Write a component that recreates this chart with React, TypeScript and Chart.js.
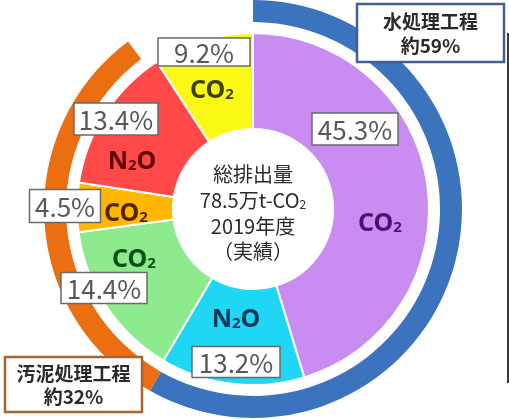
import React, { useEffect, useRef } from 'react';
import { Chart, registerables } from 'chart.js';

Chart.register(...registerables);

// ---- data ----
const gases = ['CO₂', 'N₂O', 'CO₂', 'CO₂', 'N₂O', 'CO₂'];
const shares = [45.3, 13.2, 14.4, 4.5, 13.4, 9.2];
const sliceColors = ['#C98CF1', '#1FD6F5', '#8DEA8D', '#FFB700', '#FF4848', '#F9F914'];
const gasColors = ['#4A1370', '#0A3A55', '#0A4D18', '#4F2600', '#5C0000', '#3E3E00'];
const groupNames = ['水処理工程', '汚泥処理工程', ''];
const groupValues = [58.2, 31.6, 10.2];
const groupColors = ['#3C73BE', '#EB6E10', 'rgba(0,0,0,0)'];
const groupShareLabels = ['約59%', '約32%'];
const centerLines = ['総排出量', '78.5万t-CO₂', '2019年度', '（実績）'];

// ---- layout (offsets from chart centre) ----
const pctBoxes = [
  { dx: 102, dy: -80, w: 86, h: 32 },
  { dx: -17, dy: 153, w: 88, h: 31 },
  { dx: -149, dy: 79, w: 86, h: 31 },
  { dx: -188, dy: -3, w: 71, h: 33 },
  { dx: -137, dy: -90, w: 84, h: 32 },
  { dx: -49, dy: -157, w: 92, h: 28 },
];
const gasPos = [
  { dx: 127, dy: 13 },
  { dx: -17, dy: 109 },
  { dx: -119, dy: 49 },
  { dx: -127, dy: 3 },
  { dx: -121, dy: -49 },
  { dx: -41, dy: -120 },
];
const groupBoxes = [
  { x: 357, y: 4, w: 147, h: 58, border: '#40608F' },
  { x: 5, y: 357, w: 137, h: 55, border: '#A8642C' },
];

const CJK = '"Noto Sans CJK JP", "Noto Sans", sans-serif';
const LAT = '"Noto Sans", "DejaVu Sans", sans-serif';

function drawChem(
  ctx: CanvasRenderingContext2D,
  text: string,
  cx: number,
  cy: number,
  size: number,
  subSize: number,
  family: string,
  weight: string,
  color: string
) {
  const parts = text.split(/(₂)/).filter((p) => p.length > 0);
  const mainFont = `${weight} ${size}px ${family}`;
  const subFont = `${weight} ${subSize}px ${family}`;
  let total = 0;
  const widths: number[] = [];
  parts.forEach((p) => {
    ctx.font = p === '₂' ? subFont : mainFont;
    const w = ctx.measureText(p === '₂' ? '2' : p).width;
    widths.push(w);
    total += w;
  });
  let x = cx - total / 2;
  const baseline = cy + size * 0.36;
  ctx.fillStyle = color;
  ctx.textAlign = 'left';
  ctx.textBaseline = 'alphabetic';
  parts.forEach((p, i) => {
    if (p === '₂') {
      ctx.font = subFont;
      ctx.fillText('2', x, baseline + 1);
    } else {
      ctx.font = mainFont;
      ctx.fillText(p, x, baseline);
    }
    x += widths[i];
  });
}

const labelPlugin = {
  id: 'labelPlugin',
  afterDraw(chart: any) {
    const ctx: CanvasRenderingContext2D = chart.ctx;
    const meta = chart.getDatasetMeta(2);
    if (!meta || !meta.data.length) return;
    const cx = meta.data[0].x;
    const cy = meta.data[0].y;
    ctx.save();

    // gas labels
    gases.forEach((g, i) => {
      const p = gasPos[i];
      drawChem(ctx, g, cx + p.dx, cy + p.dy, 25, 15, LAT, 'bold', gasColors[i]);
    });

    // percentage boxes
    shares.forEach((v, i) => {
      const b = pctBoxes[i];
      const x = cx + b.dx - b.w / 2;
      const y = cy + b.dy - b.h / 2;
      ctx.fillStyle = '#FFFFFF';
      ctx.fillRect(x, y, b.w, b.h);
      ctx.strokeStyle = '#6A6A6A';
      ctx.lineWidth = 1.5;
      ctx.strokeRect(x, y, b.w, b.h);
      ctx.fillStyle = '#585858';
      ctx.font = `26px ${CJK}`;
      ctx.textAlign = 'center';
      ctx.textBaseline = 'middle';
      ctx.fillText(v.toFixed(1) + '%', cx + b.dx, cy + b.dy + 1);
    });

    // centre text
    const offs = [-34, -8, 18, 43];
    centerLines.forEach((t, i) => {
      drawChem(ctx, t, cx, cy + offs[i], 20, 12, CJK, 'normal', '#2A2A2A');
    });

    // group boxes
    groupBoxes.forEach((b, i) => {
      ctx.fillStyle = '#FFFFFF';
      ctx.fillRect(b.x, b.y, b.w, b.h);
      ctx.strokeStyle = b.border;
      ctx.lineWidth = 2.5;
      ctx.strokeRect(b.x, b.y, b.w, b.h);
      ctx.fillStyle = '#2A2A2A';
      ctx.font = `bold 19px ${CJK}`;
      ctx.textAlign = 'center';
      ctx.textBaseline = 'middle';
      ctx.fillText(groupNames[i], b.x + b.w / 2, b.y + b.h * 0.3);
      ctx.fillText(groupShareLabels[i], b.x + b.w / 2, b.y + b.h * 0.72);
    });

    ctx.restore();
  },
};

export default function App() {
  const ref = useRef<HTMLCanvasElement | null>(null);

  useEffect(() => {
    if (!ref.current) return;
    const chart = new Chart(ref.current, {
      type: 'doughnut',
      data: {
        labels: gases,
        datasets: [
          {
            data: groupValues,
            backgroundColor: groupColors,
            borderWidth: 0,
            hoverBorderWidth: 0,
            weight: 22,
          } as any,
          {
            data: [1],
            backgroundColor: ['rgba(0,0,0,0)'],
            borderWidth: 0,
            weight: 11,
          } as any,
          {
            data: shares,
            backgroundColor: sliceColors,
            borderColor: '#FFFFFF',
            borderWidth: 2,
            weight: 96,
          } as any,
        ],
      },
      options: {
        responsive: false,
        animation: false,
        cutout: '38.3%',
        layout: { padding: { left: 0, right: 3, top: 0, bottom: 1 } },
        plugins: {
          legend: { display: false },
          tooltip: { enabled: false },
        },
        events: [],
      } as any,
      plugins: [labelPlugin],
    });
    return () => chart.destroy();
  }, []);

  return (
    <div style={{ position: 'absolute', left: 0, top: 0, width: 509, height: 419, background: '#FFFFFF' }}>
      <canvas ref={ref} width={509} height={419} style={{ width: 509, height: 419, display: 'block' }} />
      <div style={{ position: 'absolute', left: 507, top: 33, width: 2, height: 350, background: '#3A3A3A' }} />
    </div>
  );
}
